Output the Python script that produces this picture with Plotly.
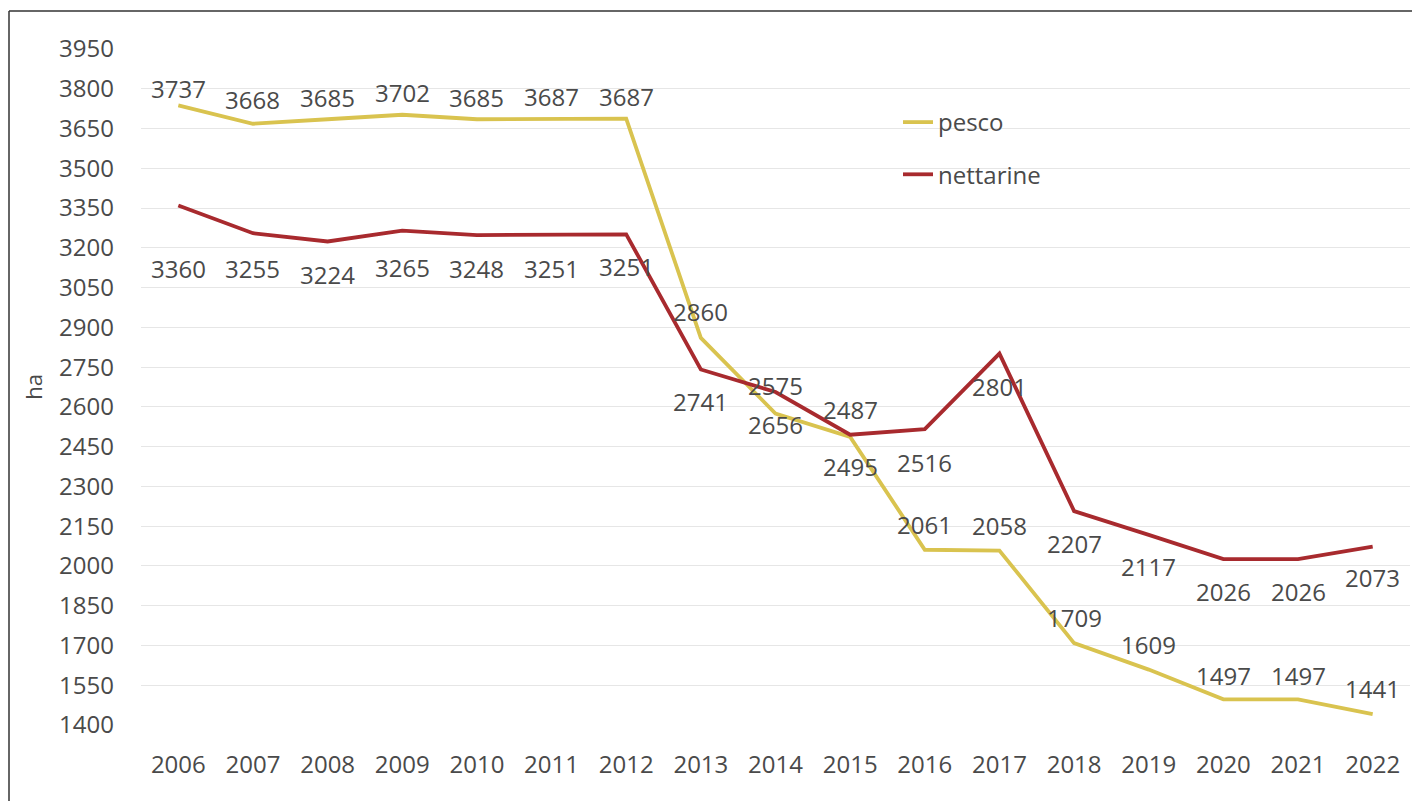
import plotly.graph_objects as go

years = [str(y) for y in range(2006, 2023)]
pesco = [3737, 3668, 3685, 3702, 3685, 3687, 3687, 2860, 2575, 2487, 2061, 2058, 1709, 1609, 1497, 1497, 1441]
nettarine = [3360, 3255, 3224, 3265, 3248, 3251, 3251, 2741, 2656, 2495, 2516, 2801, 2207, 2117, 2026, 2026, 2073]
y_ticks = list(range(1400, 4000, 150))

# label offsets (px, style only)
pesco_shift = [17, 24, 22, 22, 22, 22, 22, 26, 28, 27, 25, 25, 26, 25, 24, 24, 26]
nett_shift = [-63, -35, -33, -37, -33, -34, -32, -32, -32, -32, -33, -33, -32, -32, -32, -32, -31]

FONT = "Open Sans"
TXT = "#4a4a4a"
C_PESCO = "#D9C34F"
C_NETT = "#A82A2E"
FS = 24

fig = go.Figure()
fig.add_trace(go.Scatter(x=years, y=pesco, mode="lines", name="pesco",
                         line=dict(color=C_PESCO, width=3.8), legendgroup="a"))
fig.add_trace(go.Scatter(x=years, y=nettarine, mode="lines", name="nettarine",
                         line=dict(color=C_NETT, width=3.8), legendgroup="b"))

annotations = []
for i, (v, s) in enumerate(zip(pesco, pesco_shift)):
    annotations.append(dict(x=i, y=v, xref="x", yref="y", text=str(v), showarrow=False,
                            yshift=s, font=dict(family=FONT, size=FS, color=TXT)))
for i, (v, s) in enumerate(zip(nettarine, nett_shift)):
    annotations.append(dict(x=i, y=v, xref="x", yref="y", text=str(v), showarrow=False,
                            yshift=s, font=dict(family=FONT, size=FS, color=TXT)))

# page body has an 8px offset; figure spans 1412x793 starting at (8,8)
W, H = 1412, 793
L, R, T, B = 133, 10, 41, 76
pw, ph = W - L - R, H - T - B
bx = (1 - L) / pw      # border left at page x=9
by = 1 + (T - 3) / ph  # border top at page y=11

fig.update_layout(
    width=W, height=H,
    margin=dict(l=L, r=R, t=T, b=B),
    paper_bgcolor="white", plot_bgcolor="white",
    font=dict(family=FONT, size=FS, color=TXT),
    showlegend=True,
    legend=dict(x=(898 - 141) / pw, y=1 - (100 - 49) / ph, xanchor="left", yanchor="top",
                bgcolor="rgba(0,0,0,0)", tracegroupgap=18, traceorder="grouped",
                font=dict(family=FONT, size=FS, color=TXT)),
    annotations=annotations,
    shapes=[
        dict(type="line", xref="paper", yref="paper", x0=bx, x1=1.2,
             y0=by, y1=by, line=dict(color="#333333", width=1.5)),
        dict(type="line", xref="paper", yref="paper", x0=bx, x1=bx,
             y0=by, y1=-0.3, line=dict(color="#333333", width=1.5)),
    ],
)
fig.update_xaxes(type="category", range=[-0.5, 16.5], showgrid=False, showline=False,
                 ticks="", ticklabelstandoff=23, tickfont=dict(size=FS, color=TXT))
fig.update_yaxes(range=[1400, 3950], tickvals=y_ticks, showgrid=True, gridcolor="#e6e6e6",
                 gridwidth=1, zeroline=False, showline=False, ticks="",
                 ticklabelstandoff=26, tickfont=dict(size=FS, color=TXT),
                 title=dict(text="ha", standoff=10, font=dict(size=22, color=TXT)))

fig.write_html("out.html")
